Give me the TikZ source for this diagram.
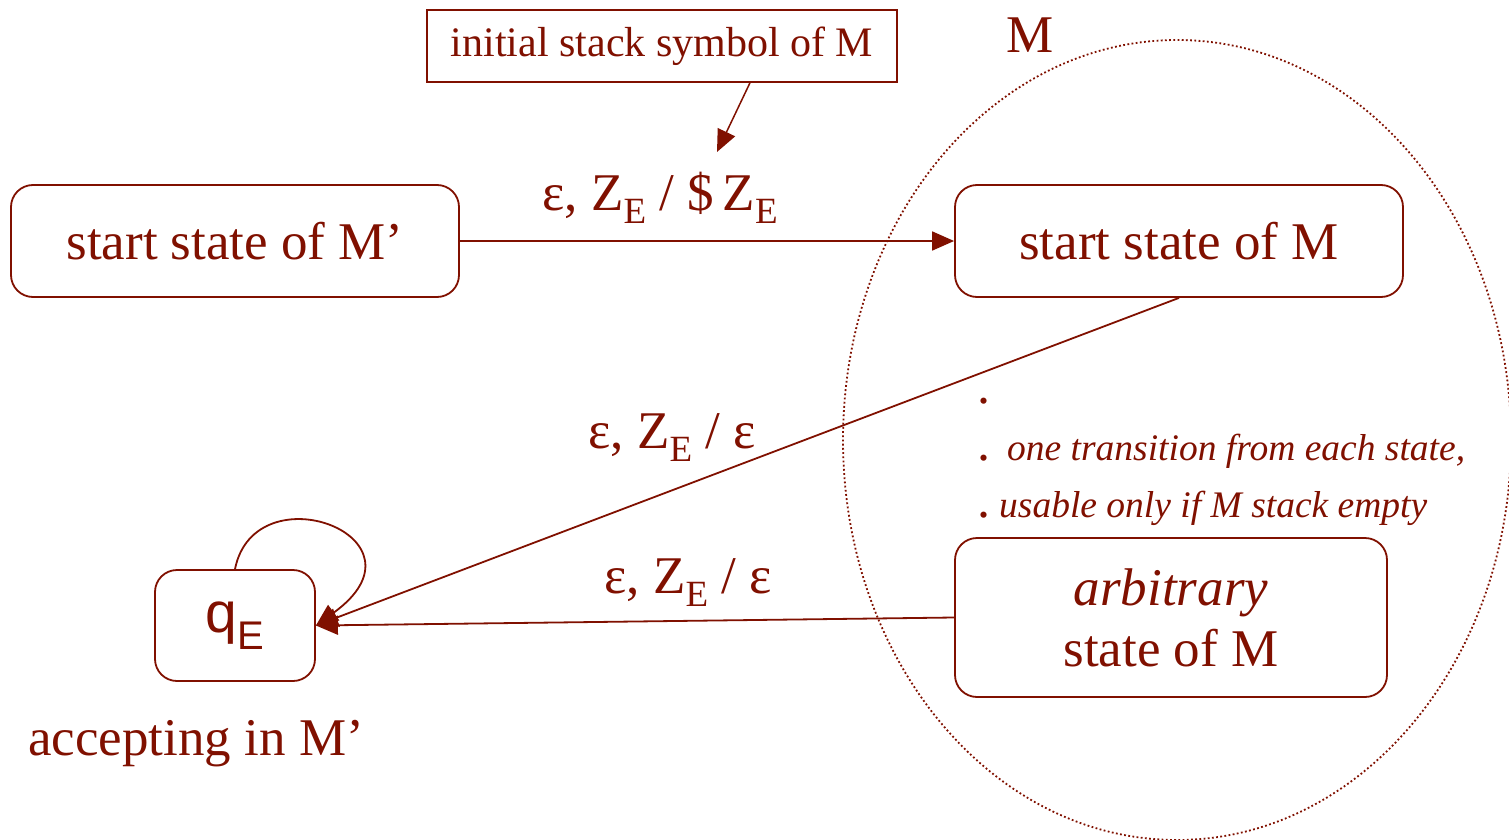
\documentclass[tikz,border=0pt]{standalone}
\usepackage{fontspec}
\setmainfont{Liberation Serif}
\newfontfamily\qfont{Liberation Sans}
\usetikzlibrary{arrows.meta,positioning,shapes.geometric}
\definecolor{mred}{RGB}{128,16,0}
\newcommand{\lowsub}[1]{\raisebox{-13pt}{\fontsize{37}{37}\selectfont #1}}
\newcommand{\bigdot}{{\fontsize{52}{52}\selectfont .}}
\tikzstyle{state} = [rectangle, rounded corners=22pt, draw, line width=1.8pt, inner sep=0pt, align=center, font=\fontsize{53}{61}\selectfont]
\tikzstyle{note} = [rectangle, draw, line width=1.5pt, minimum width=470pt, minimum height=72pt, inner sep=0pt, font=\fontsize{42}{48}\selectfont]
\tikzstyle{trans} = [inner sep=0pt, anchor=base, font=\fontsize{53}{60}\selectfont]
\tikzstyle{remark} = [inner sep=0pt, anchor=base west, font=\fontsize{37.5}{40}\selectfont]
\tikzstyle{arrow} = [line width=1.8pt, -{Triangle[length=22pt,width=19pt]}]

\begin{document}
\begin{tikzpicture}[x=1pt, y=1pt, color=mred]
    \useasboundingbox (0,0) rectangle (1509,-840);
    \node (region) [ellipse, draw, line width=1.8pt, dash pattern=on 1.8pt off 2.4pt, minimum width=668pt, minimum height=800pt, inner sep=0pt] at (1177,-440) {};
    \node (Mlabel) [inner sep=0pt, font=\fontsize{53}{60}\selectfont] at (1030,-35) {M};
    \node (init) [note] at (662,-46) {initial stack symbol of M};
    \node (startp) [state, minimum width=448pt, minimum height=112pt] at (235,-241) {start state of M’};
    \node (startm) [state, minimum width=448pt, minimum height=112pt] at (1179,-241) {start state of M};
    \node (arb) [state, minimum width=432pt, minimum height=159pt] at (1171,-617.5) {\textit{arbitrary}\\state of M};
    \node (qE) [state, minimum width=160pt, minimum height=111pt, font=\qfont\fontsize{57}{60}\selectfont] at (235,-625.5) {q\raisebox{-17pt}{\fontsize{40}{40}\selectfont E}};
    \node (acc) [below=38pt of qE, xshift=-39pt, inner sep=0pt, font=\fontsize{53}{60}\selectfont] {accepting in M’};

    \node (lab1) [trans] at (660,-210) {ε, Z\lowsub{E} / \$\,Z\lowsub{E}};
    \node (lab2) [trans] at (672,-448) {ε, Z\lowsub{E} / ε};
    \node (lab3) [trans] at (688,-593) {ε, Z\lowsub{E} / ε};

    \node (dot1) [remark] at (977,-403) {\bigdot};
    \node (rem1) [remark] at (977,-460) {\bigdot\hspace{17pt}\textit{one transition from each state,}};
    \node (rem2) [remark] at (977,-517) {\bigdot\hspace{9pt}\textit{usable only if M stack empty}};

    \coordinate (pin) at (717,-152);
    \draw[arrow, line width=1.5pt] ([xshift=88pt]init.south) -- (pin);
    \draw[arrow] (startp) -- (startm);
    \draw[arrow] (startm.south) -- (qE.east);
    \draw[arrow] (arb.west) -- (qE.east);
    \draw[arrow] (qE.north) .. controls +(20,100) and +(122,88) .. (qE.east);

\end{tikzpicture}
\end{document}
